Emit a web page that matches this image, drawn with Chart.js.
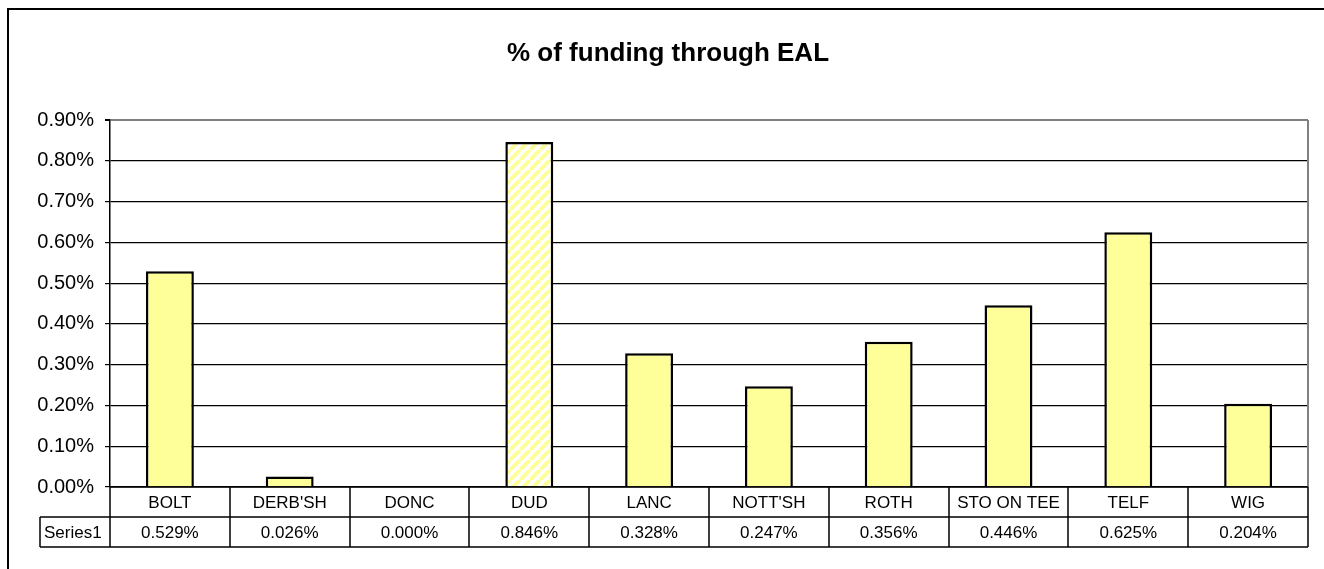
<!DOCTYPE html>
<html>
<head>
<meta charset="utf-8">
<script src="https://cdn.jsdelivr.net/npm/chart.js@4.4.1/dist/chart.umd.min.js"></script>
<style>
html,body{margin:0;padding:0;background:#fff;}
canvas{display:block;}
</style>
</head>
<body>
<canvas id="c" width="1324" height="569"></canvas>
<script>
const chartTitle = '% of funding through EAL';
const categories = ['BOLT', "DERB'SH", 'DONC', 'DUD', 'LANC', "NOTT'SH", 'ROTH', 'STO ON TEE', 'TELF', 'WIG'];
const seriesName = 'Series1';
const values = [0.529, 0.026, 0.000, 0.846, 0.328, 0.247, 0.356, 0.446, 0.625, 0.204];
const yTickValues = [0, 0.1, 0.2, 0.3, 0.4, 0.5, 0.6, 0.7, 0.8, 0.9];
const highlightIndex = 3;

const FONT = '"Liberation Sans", Arial, sans-serif';

function stripePattern() {
  const s = 10;
  const pc = document.createElement('canvas');
  pc.width = s; pc.height = s;
  const g = pc.getContext('2d');
  g.fillStyle = '#ffffff';
  g.fillRect(0, 0, s, s);
  g.strokeStyle = '#ffff99';
  g.lineWidth = 4;
  g.beginPath();
  for (let k = -1; k <= 1; k++) {
    g.moveTo(k * s, s);
    g.lineTo(k * s + s, 0);
  }
  g.stroke();
  return g.createPattern(pc, 'repeat');
}

const pattern = stripePattern();
const bgColors = values.map((v, i) => i === highlightIndex ? pattern : '#ffff99');

const frameAndTable = {
  id: 'frameAndTable',
  afterDraw(chart) {
    const ctx = chart.ctx;
    const ca = chart.chartArea;
    const xs = chart.scales.x;
    const n = categories.length;
    const colW = (ca.right - ca.left) / n;
    const rowH = 30;
    const r1 = ca.bottom, r2 = ca.bottom + rowH, r3 = ca.bottom + 2 * rowH;
    const labelLeft = 40;
    ctx.save();
    // outer frame
    ctx.strokeStyle = '#000';
    ctx.lineWidth = 2;
    ctx.strokeRect(8, 9, 1340, 600);
    // title
    ctx.fillStyle = '#000';
    ctx.font = 'bold 26px ' + FONT;
    ctx.textAlign = 'center';
    ctx.textBaseline = 'alphabetic';
    ctx.fillText(chartTitle, 668, 61);
    // plot right border (gray)
    ctx.strokeStyle = '#808080';
    ctx.lineWidth = 2;
    ctx.beginPath();
    ctx.moveTo(ca.right, ca.top);
    ctx.lineTo(ca.right, ca.bottom);
    ctx.stroke();
    // table lines
    ctx.strokeStyle = '#000';
    ctx.lineWidth = 1.5;
    ctx.beginPath();
    ctx.moveTo(ca.left, r1); ctx.lineTo(ca.right, r1);
    ctx.moveTo(labelLeft, r2); ctx.lineTo(ca.right, r2);
    ctx.moveTo(labelLeft, r3); ctx.lineTo(ca.right, r3);
    ctx.moveTo(labelLeft, r2); ctx.lineTo(labelLeft, r3);
    for (let i = 0; i <= n; i++) {
      const x = Math.round(ca.left + i * colW);
      ctx.moveTo(x, r1); ctx.lineTo(x, r3);
    }
    ctx.stroke();
    // table text
    ctx.font = '17px ' + FONT;
    ctx.textAlign = 'center';
    ctx.textBaseline = 'middle';
    for (let i = 0; i < n; i++) {
      const cx = xs.getPixelForValue(i);
      ctx.fillText(categories[i], cx, r1 + rowH / 2 + 1);
      ctx.fillText(values[i].toFixed(3) + '%', cx, r2 + rowH / 2 + 1);
    }
    ctx.textAlign = 'left';
    ctx.fillText(seriesName, labelLeft + 4, r2 + rowH / 2 + 1);
    ctx.restore();
  }
};

new Chart(document.getElementById('c'), {
  type: 'bar',
  data: {
    labels: categories,
    datasets: [{
      label: seriesName,
      data: values,
      backgroundColor: bgColors,
      borderColor: '#000',
      borderWidth: 2.5,
      borderSkipped: 'start',
      categoryPercentage: 0.8,
      barPercentage: 0.5
    }]
  },
  options: {
    responsive: false,
    animation: false,
    devicePixelRatio: 1,
    layout: { padding: { left: 0, top: 120, right: 16, bottom: 82 } },
    plugins: { legend: { display: false }, title: { display: false }, tooltip: { enabled: false } },
    scales: {
      x: { display: false },
      y: {
        min: 0, max: 0.9,
        afterFit(scale) { scale.width = 110; },
        afterBuildTicks(scale) { scale.ticks = yTickValues.map(v => ({ value: v })); },
        ticks: {
          color: '#000',
          font: { family: FONT, size: 20 },
          padding: 11,
          callback: (v) => Number(v).toFixed(2) + '%'
        },
        grid: {
          color: (c) => (c.tick && Math.abs(c.tick.value - 0.9) < 1e-9) ? '#808080' : '#000',
          lineWidth: (c) => (c.tick && Math.abs(c.tick.value - 0.9) < 1e-9) ? 2 : 1.2,
          tickColor: '#000',
          tickLength: 5,
          drawTicks: true
        },
        border: { color: '#000', width: 1.5 }
      }
    }
  },
  plugins: [frameAndTable]
});
</script>
</body>
</html>
